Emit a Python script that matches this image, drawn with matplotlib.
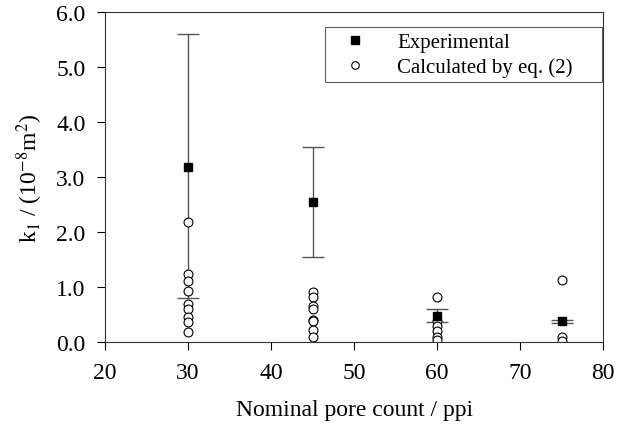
import matplotlib

matplotlib.use("Agg")
import matplotlib.pyplot as plt

plt.rcParams["font.family"] = "Liberation Serif"
plt.rcParams["mathtext.fontset"] = "stix"

# experimental permeability with error bars
exp_ppi = [30, 45, 60, 75]
exp_k = [3.19, 2.55, 0.48, 0.38]
exp_lo = [0.80, 1.54, 0.37, 0.35]
exp_hi = [5.60, 3.55, 0.61, 0.41]

# calculated values by eq. (2)
calc_30 = [2.19, 1.24, 1.11, 0.92, 0.69, 0.60, 0.45, 0.37, 0.18]
calc_45 = [0.91, 0.82, 0.65, 0.60, 0.40, 0.38, 0.22, 0.10]
calc_60 = [0.82, 0.38, 0.30, 0.20, 0.10, 0.04]
calc_75 = [1.12, 0.10, 0.02]

calc_x = [30] * len(calc_30) + [45] * len(calc_45) + [60] * len(calc_60) + [75] * len(calc_75)
calc_y = calc_30 + calc_45 + calc_60 + calc_75

fig = plt.figure(figsize=(6.25, 4.31), dpi=100)
ax = fig.add_axes([0.168, 0.204, 0.797, 0.766])

yerr = [[k - lo for k, lo in zip(exp_k, exp_lo)], [hi - k for k, hi in zip(exp_k, exp_hi)]]
ax.errorbar(exp_ppi, exp_k, yerr=yerr, fmt="none", ecolor="#555555", elinewidth=1.0,
            capsize=8, capthick=1.0, zorder=1)
ax.plot(calc_x, calc_y, "o", ms=6.4, mfc="white", mec="black", mew=0.8, ls="none",
        label="Calculated by eq. (2)", zorder=2)
ax.plot(exp_ppi, exp_k, "s", ms=6.4, color="black", ls="none", label="Experimental", zorder=3)

ax.set_xlim(20, 80)
ax.set_ylim(0, 6.0)
ax.set_xticks(range(20, 81, 10))
ax.set_yticks([0, 1, 2, 3, 4, 5, 6])
ax.set_yticklabels([f"{v:.1f}" for v in range(7)])
ax.tick_params(direction="out", length=6, width=0.8, labelsize=17, colors="black",
               top=False, right=False)
ax.tick_params(axis="x", pad=8)
ax.tick_params(axis="y", pad=8)
for s in ax.spines.values():
    s.set_linewidth(0.8)
    s.set_color("#333333")

ax.set_xlabel("Nominal pore count / ppi", fontsize=17, labelpad=12)
ax.set_ylabel("k$_1$ / (10$^{\\mathrm{-8}}$m$^2$)", fontsize=17, labelpad=8)

handles, labels = ax.get_legend_handles_labels()
leg = ax.legend(handles[::-1], labels[::-1], loc="upper left", fontsize=15,
                frameon=True, fancybox=False, edgecolor="#333333",
                bbox_to_anchor=(0.442, 0.787, 0.556, 0.167), mode="expand",
                borderaxespad=0, borderpad=0.25, handlelength=2.4,
                handletextpad=0.8, markerscale=0.85, labelspacing=0.25)
leg.get_frame().set_linewidth(0.8)

fig.savefig("out.png", dpi=100)
